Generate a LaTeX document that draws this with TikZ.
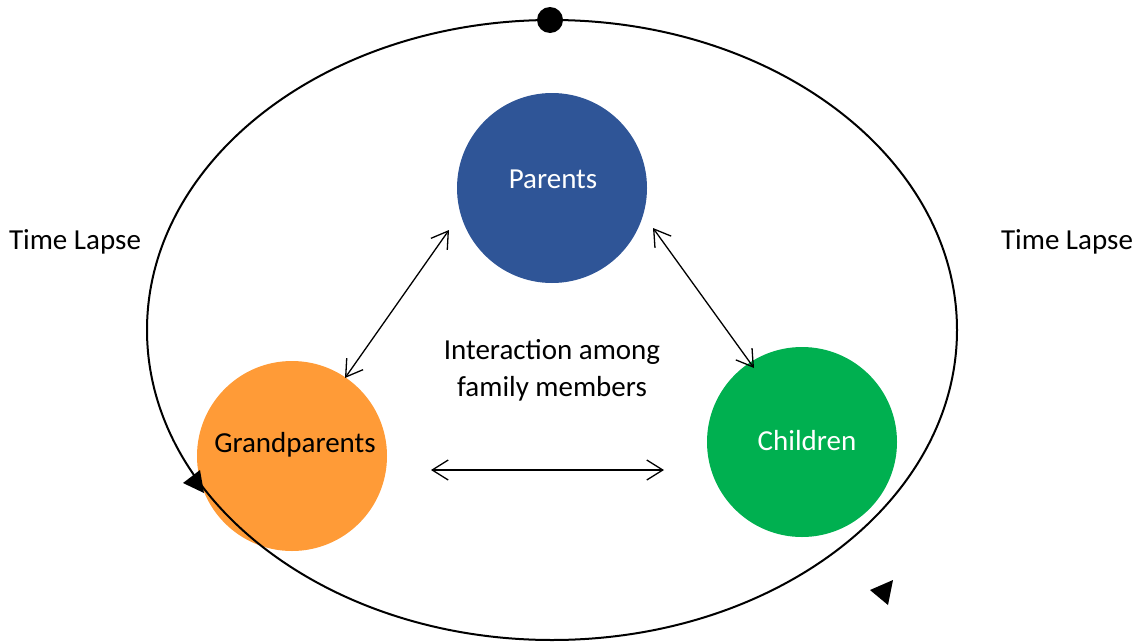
\documentclass[tikz,border=0pt]{standalone}
\usepackage{fontspec}
\setmainfont{Carlito}
\usetikzlibrary{arrows.meta,shapes.geometric}
\definecolor{parentblue}{HTML}{2F5597}
\definecolor{grandorange}{HTML}{FF9B37}
\definecolor{childgreen}{HTML}{00B050}
\begin{document}
\begin{tikzpicture}[x=1pt,y=-1pt,
  member/.style={circle,minimum size=190pt,inner sep=0pt},
  label/.style={font=\fontsize{29}{37}\selectfont,align=center},
  link/.style={line width=1.3pt,{Straight Barb[length=16pt,width=20pt,line width=1.3pt]}-{Straight Barb[length=16pt,width=20pt,line width=1.3pt]}}]
\useasboundingbox (0,0) rectangle (1141,643);
\node[member,fill=parentblue] (parents) at (552,188) {};
\node[member,fill=grandorange] (grand) at (292,456) {};
\node[member,fill=childgreen] (children) at (802,442) {};
\node[label,text=white] (parentsT) at ([shift={(1,-9)}]parents.center) {Parents};
\node[label,text=black] (grandT) at ([shift={(3,-11)}]grand.center) {Grandparents};
\node[label,text=white] (childrenT) at ([shift={(5,-1)}]children.center) {Children};
\node[draw=black,line width=2pt,ellipse,minimum width=810pt,minimum height=620pt,inner sep=0pt] (loop) at (552,330) {};
\fill[black] (550,20) circle[radius=13] coordinate (dot);
\fill[black] (183,483) -- (200,470) -- (204,493) -- cycle;
\fill[black] (870,590) -- (893,580) -- (888,605) -- cycle;
\node[label] (tl) at (75,242) {Time Lapse};
\node[label] (tr) at (1067,242) {Time Lapse};
\node[label] (inter) at (552,370) {Interaction among\\family members};
\coordinate (a1) at (345,378);
\coordinate (a2) at (449,230);
\coordinate (b1) at (653,228);
\coordinate (b2) at (754,368);
\coordinate (c1) at (431,470);
\coordinate (c2) at (664,470);
\draw[link] (a1) -- (a2);
\draw[link] (b1) -- (b2);
\draw[link] (c1) -- (c2);
\end{tikzpicture}
\end{document}
